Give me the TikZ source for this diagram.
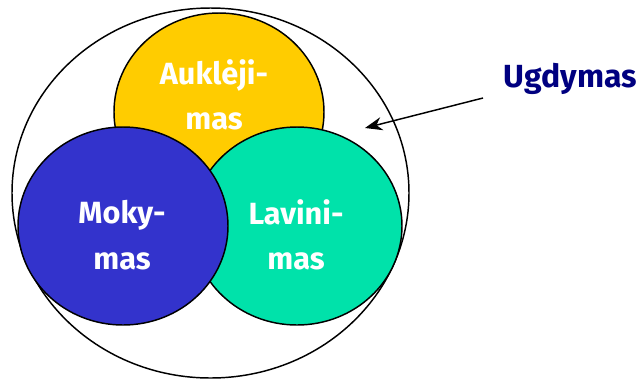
\documentclass[tikz,border=0pt]{standalone}
\usepackage{fontspec}
\setmainfont{Fira Sans}
\usetikzlibrary{shapes.geometric,arrows.meta}

\tikzset{every picture/.style={line width=1.1pt}}
\tikzset{
  part/.style={ellipse, draw, minimum width=157.5pt, minimum height=148.5pt, inner sep=0pt},
  parttext/.style={text=white, inner sep=0.75pt, align=center,
                   font=\fontsize{23}{34}\selectfont\bfseries},
}

\begin{document}
\begin{tikzpicture}[x=0.75pt, y=0.75pt, yscale=-1,xscale=1]
    \useasboundingbox (0,0) rectangle (640,380);

    % Outer: Ugdymas
    \node (ugd) [ellipse, draw, minimum width=297.75pt, minimum height=277.5pt, inner sep=0pt] at (210.5,193) {};

    % Aukl.
    \node (aukl) [part, fill={rgb, 255:red, 255; green, 204; blue,   0 }] at (219,112) {};
    % Lavin.
    \node (lavin) [part, fill={rgb, 255:red,   0; green, 226; blue, 170 }] at (297,226) {};
    % Mok.
    \node (mok) [part, fill={rgb, 255:red,  51; green,  51; blue, 204 }] at (123,226) {};

    % Labels
    \node (auklt)  [parttext] at (214,95)  {Auklėji-\\mas};
    \node (mokt)   [parttext] at (122,235) {Moky-\\mas};
    \node (lavint) [parttext] at (296,235) {Lavini-\\mas};

    % Label: Ugdymas + arrow
    \node (ugdt) [anchor=base west, inner sep=0.75pt, text={rgb, 255:red, 0; green, 0; blue, 128 },
                  font=\fontsize{24}{28}\selectfont\bfseries] at (502,87) {Ugdymas};
    \coordinate (from) at (483,98);
    \coordinate (tip)  at (365,128);
    \draw [-{Stealth[length=13pt, width=10pt]}] (from) -- (tip);

\end{tikzpicture}
\end{document}
